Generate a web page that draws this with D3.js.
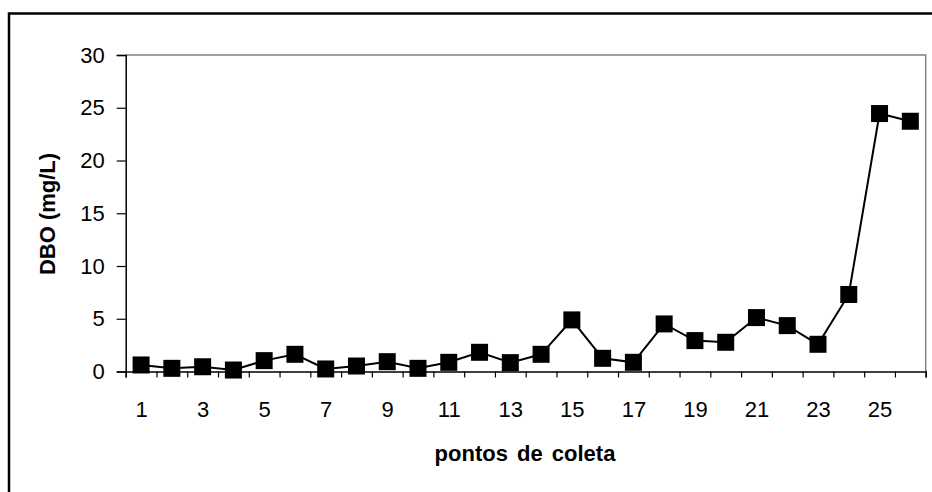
<!DOCTYPE html>
<html>
<head>
<meta charset="utf-8">
<script src="https://cdn.jsdelivr.net/npm/d3@7"></script>
<style>
  body { margin: 0; background: #fff; }
  svg { display: block; font-family: "Liberation Sans", Arial, sans-serif; }
</style>
</head>
<body>
<svg id="chart" width="932" height="492"></svg>
<script>
// data
const points = d3.range(1, 27);
const dbo = [0.62, 0.3, 0.45, 0.14, 1.03, 1.63, 0.24, 0.52, 0.93, 0.3, 0.87, 1.82, 0.84,
             1.63, 4.89, 1.25, 0.87, 4.51, 2.93, 2.77, 5.11, 4.35, 2.58, 7.3, 24.45, 23.72];
const yTicks = [0, 5, 10, 15, 20, 25, 30];
const xLabels = [1, 3, 5, 7, 9, 11, 13, 15, 17, 19, 21, 23, 25];

const svg = d3.select("#chart");
const plot = { left: 125.7, right: 925.7, top: 55, bottom: 371.5 };

// outer frame (runs off the right and bottom edges)
svg.append("rect")
  .attr("x", 9).attr("y", 13.5)
  .attr("width", 1000).attr("height", 600)
  .attr("fill", "none")
  .attr("stroke", "#000")
  .attr("stroke-width", 2.5);

const x = d3.scaleLinear().domain([0.5, 26.5]).range([plot.left, plot.right]);
const y = d3.scaleLinear().domain([0, 30]).range([plot.bottom, plot.top]);

// plot area border top + right (gray)
svg.append("path")
  .attr("d", `M${plot.left},${plot.top}H${plot.right}V${plot.bottom}`)
  .attr("fill", "none")
  .attr("stroke", "#808080")
  .attr("stroke-width", 1.5);

// y axis
const yAxis = svg.append("g")
  .attr("transform", `translate(${plot.left},0)`)
  .call(d3.axisLeft(y).tickValues(yTicks).tickSize(9).tickPadding(12));
yAxis.select(".domain").attr("stroke-width", 1.5);
yAxis.selectAll("line").attr("stroke-width", 1.2);
yAxis.selectAll("text").style("font-size", "22px").attr("fill", "#000");

// x axis: ticks at category boundaries
const xAxis = svg.append("g")
  .attr("transform", `translate(0,${plot.bottom})`)
  .call(d3.axisBottom(x).tickValues(d3.range(0.5, 27, 1)).tickSize(6).tickFormat(""));
xAxis.select(".domain").attr("stroke-width", 1.5);
xAxis.selectAll("line").attr("stroke-width", 1.2);

// x labels on every other category
const xLab = svg.append("g")
  .attr("transform", `translate(0,${plot.bottom})`)
  .call(d3.axisBottom(x).tickValues(xLabels).tickSize(0).tickPadding(30));
xLab.select(".domain").remove();
xLab.selectAll("text").style("font-size", "22px").attr("fill", "#000");

// line + square markers
const line = d3.line().x((d, i) => x(points[i])).y(d => y(d));
svg.append("path")
  .datum(dbo)
  .attr("d", line)
  .attr("fill", "none")
  .attr("stroke", "#000")
  .attr("stroke-width", 2);

const ms = 17;
svg.append("g").selectAll("rect")
  .data(dbo)
  .join("rect")
  .attr("x", (d, i) => x(points[i]) - ms / 2)
  .attr("y", d => y(d) - ms / 2)
  .attr("width", ms)
  .attr("height", ms)
  .attr("fill", "#000");

// axis titles
svg.append("text")
  .attr("x", 525).attr("y", 461)
  .attr("text-anchor", "middle")
  .style("font-size", "22px")
  .style("font-weight", "bold")
  .style("word-spacing", "3px")
  .text("pontos de coleta");

svg.append("text")
  .attr("transform", "translate(55,214) rotate(-90)")
  .attr("text-anchor", "middle")
  .style("font-size", "22px")
  .style("font-weight", "bold")
  .text("DBO (mg/L)");
</script>
</body>
</html>
